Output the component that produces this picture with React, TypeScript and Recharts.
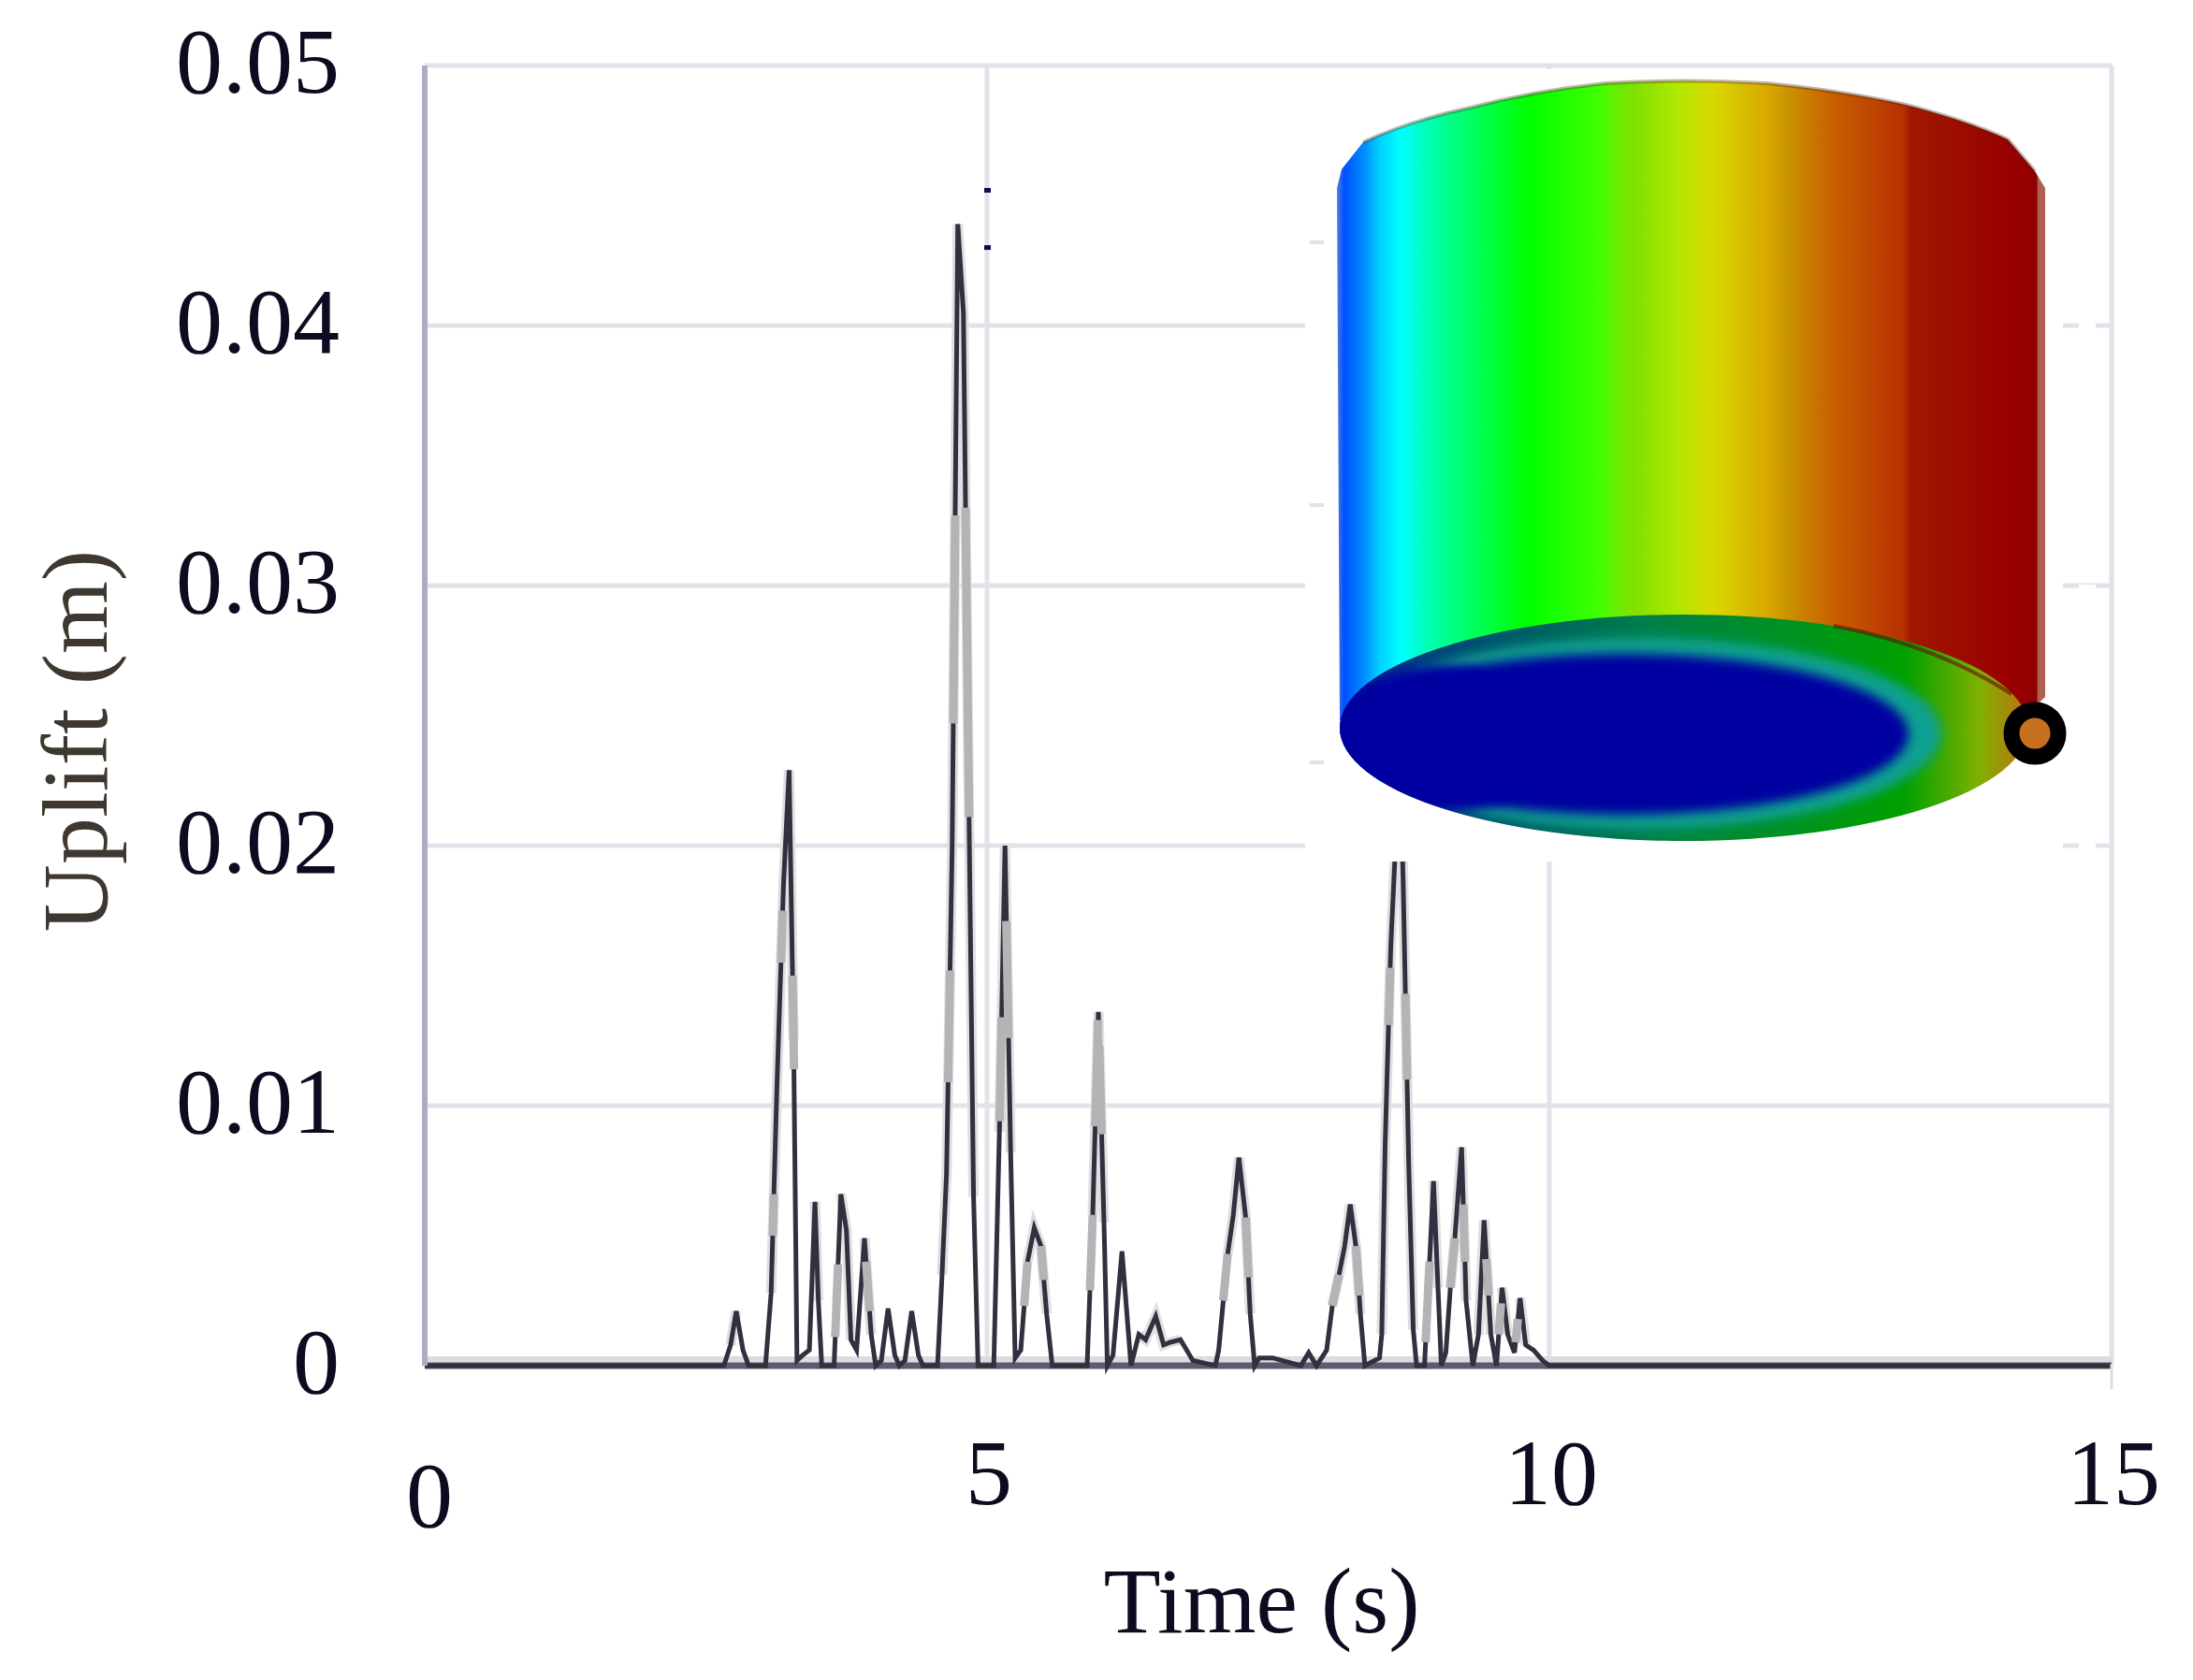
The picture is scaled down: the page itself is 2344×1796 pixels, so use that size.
import { CartesianGrid, ComposedChart, Line, ReferenceArea, ReferenceLine, Scatter, XAxis, YAxis } from 'recharts'

const time = [
  0, 2.66, 2.72, 2.77, 2.83, 2.88, 3.03, 3.08, 3.13, 3.19, 3.24, 3.28, 3.31, 3.36, 3.42, 3.47, 3.5, 3.53,
  3.64, 3.7, 3.75, 3.79, 3.84, 3.91, 3.97, 4.01, 4.06, 4.12, 4.18, 4.22, 4.27, 4.33, 4.39, 4.43,
  4.56, 4.6, 4.64, 4.69, 4.74, 4.79, 4.83, 4.88, 4.92, 5.06, 5.11, 5.16, 5.21, 5.25,
  5.3, 5.36, 5.42, 5.48, 5.53, 5.58, 5.89, 5.94, 5.99, 6.04, 6.07, 6.12, 6.2, 6.28,
  6.35, 6.41, 6.5, 6.57, 6.63, 6.72, 6.83, 7.03, 7.06, 7.14, 7.19, 7.24, 7.3, 7.34, 7.38,
  7.42, 7.54, 7.79, 7.86, 7.93, 8.02, 8.07, 8.13, 8.18, 8.23, 8.28, 8.32, 8.36,
  8.49, 8.51, 8.54, 8.59, 8.67, 8.7, 8.75, 8.79, 8.82, 8.89, 8.97, 9.01, 9.04,
  9.08, 9.12, 9.16, 9.22, 9.26, 9.32, 9.37, 9.42, 9.48, 9.53, 9.58, 9.63, 9.69,
  9.74, 9.79, 9.86, 9.94, 10, 15,
]
const uplift = [
  0, 0, 0.0008, 0.0021, 0.0006, 0, 0, 0.0028, 0.0105, 0.0185, 0.0229, 0.0125, 0.0002, 0.0004, 0.0006, 0.0063, 0.0025, 0,
  0, 0.0066, 0.0052, 0.001, 0.0006, 0.0049, 0.0012, 0, 0.0002, 0.0022, 0.0004, 0, 0.0002, 0.0021, 0.0004, 0,
  0, 0.0035, 0.0074, 0.02, 0.0439, 0.0405, 0.0247, 0.0065, 0, 0, 0.009, 0.02, 0.0082, 0.0003,
  0.0006, 0.004, 0.0053, 0.0046, 0.002, 0, 0, 0.0058, 0.0136, 0.0055, 0, 0.0004, 0.0044, 0,
  0.0012, 0.001, 0.0019, 0.0008, 0.0009, 0.001, 0.0002, 0, 0.0006, 0.0043, 0.0058, 0.008, 0.0057, 0.002, 0,
  0.0003, 0.0003, 0, 0.0005, 0, 0.0006, 0.0023, 0.0035, 0.0046, 0.0062, 0.0046, 0.002, 0,
  0.0003, 0.0012, 0.0085, 0.0161, 0.0235, 0.0187, 0.0077, 0.0014, 0, 0, 0.0071, 0.003, 0,
  0.0005, 0.003, 0.0049, 0.0084, 0.0025, 0, 0.0012, 0.0056, 0.0012, 0, 0.003, 0.0012, 0.0005,
  0.0026, 0.0008, 0.0006, 0.0002, 0, 0,
]
// stretches of the flanks where the trace goes gray instead of dark, null breaks the line
const grayTime = [
  3.094, 3.105, 0, 3.1675, 3.1825, 0, 3.27, 3.28, 3.283, 0, 3.65, 3.675, 0, 3.925, 3.955, 0,
  4.654, 4.671, 0, 4.7, 4.717, 0, 4.809, 4.83, 4.84, 0, 5.112, 5.13, 0, 5.172, 5.191, 0,
  5.33, 5.36, 0, 5.48, 5.505, 0, 5.915, 5.94, 0, 5.962, 5.988, 0, 5.998, 6.019, 0,
  7.1, 7.14, 0, 7.3, 7.325, 0, 8.07, 8.13, 0, 8.28, 8.31, 0, 8.57, 8.585, 0, 8.72, 8.735, 0,
  8.9, 8.935, 0, 9.12, 9.16, 0, 9.235, 9.25, 0, 9.44, 9.46, 0, 9.55, 9.57, 0, 9.7, 9.72,
]
const grayUplift = [
  0.005, 0.0066, null, 0.0155, 0.0175, null, 0.015, 0.0125, 0.0114, null, 0.0011, 0.0039, null, 0.004, 0.0021, null,
  0.0109, 0.0152, null, 0.0247, 0.0327, null, 0.033, 0.0247, 0.0211, null, 0.0094, 0.0134, null, 0.0171, 0.0126, null,
  0.0023, 0.004, null, 0.0046, 0.0033, null, 0.0029, 0.0058, null, 0.0092, 0.0133, null, 0.0123, 0.0089, null,
  0.0025, 0.0043, null, 0.0057, 0.0034, null, 0.0023, 0.0035, null, 0.0046, 0.0027, null, 0.0131, 0.0153, null, 0.0143, 0.011, null,
  0.0009, 0.004, null, 0.003, 0.0049, null, 0.0062, 0.004, null, 0.0041, 0.0027, null, 0.0012, 0.0024, null, 0.0009, 0.0018,
]
const strayTimes = [5, 5]
const strayValues = [0.0452, 0.043]
const xTicks = [0, 5, 10, 15]
const yTicks = [0, 0.01, 0.02, 0.03, 0.04, 0.05]

const chartData = time.map((t, i) => ({ time: t, uplift: uplift[i], halo: uplift[i] > 0.0006 ? uplift[i] : null }))
const grayData = grayTime.map((t, i) => ({ time: t, gray: grayUplift[i] }))
const strayData = strayTimes.map((t, i) => ({ time: t, uplift: strayValues[i] }))

const serif = '"Liberation Serif", serif'

function TimeTick({ x, y, payload }: any) {
  const isZero = payload.value === 0
  return (
    <g>
      {payload.value === 15 && <line x1={x} x2={x} y1={y - 10} y2={y + 17} stroke="#dcdce4" strokeWidth={3} />}
      <text x={x + (isZero ? 5 : 2)} y={isZero ? 1632 : 1608} textAnchor="middle" fontFamily={serif} fontSize={100} fill="#0c0c20">
        {payload.value}
      </text>
    </g>
  )
}

function StrayMark({ cx, cy }: any) {
  return <rect x={cx - 3} y={cy - 2.5} width={7} height={5} fill="#0a0a50" />
}

const sideStops: [number, string][] = [
  [0, '#5080e0'], [1, '#0050ff'], [4, '#0090ff'], [6, '#00d0ff'], [9, '#00ffff'], [13, '#00ffb0'], [19, '#00ff60'],
  [27, '#00ff00'], [37, '#40ff00'], [39, '#60f000'], [42, '#80e000'], [48, '#b0e800'], [53, '#d8d800'],
  [61, '#d8a800'], [64, '#c89000'], [70, '#c86000'], [80, '#b83000'], [81, '#a01800'], [95, '#980000'], [98.8, '#900000'], [99, '#b06050'],
]

function Inset() {
  return (
    <svg width={2344} height={1796} style={{ position: 'absolute', left: 0, top: 0 }}>
      <defs>
        <linearGradient id="side" x1="0" x2="1" y1="0" y2="0">
          {sideStops.map(([o, c]) => <stop key={o} offset={`${o}%`} stopColor={c} />)}
        </linearGradient>
        <linearGradient id="base" x1="0" x2="1" y1="0" y2="0">
          <stop offset="0%" stopColor="#002a90" />
          <stop offset="45%" stopColor="#008048" />
          <stop offset="82%" stopColor="#00a000" />
          <stop offset="93%" stopColor="#80b000" />
          <stop offset="100%" stopColor="#c07010" />
        </linearGradient>
        <filter id="soft" x="-10%" y="-20%" width="120%" height="140%">
          <feGaussianBlur stdDeviation="6" />
        </filter>
        <clipPath id="baseClip">
          <ellipse cx={1800} cy={778} rx={368} ry={121} />
        </clipPath>
      </defs>
      <rect x={1395} y={74} width={810} height={847} fill="#fff" />
      {[348, 629, 905].map(y => <rect key={y} x={2222} y={y - 4} width={18} height={8} fill="#fff" />)}
      {[259, 540, 815].map(y => <rect key={y} x={1400} y={y - 2} width={15} height={4} fill="#e0e0e8" />)}
      <path
        d="M1429 201 L1434 181 L1457 152 Q1510 128 1572 115 Q1640 97 1716 89 Q1800 84 1888 89 Q1970 97 2037 112 Q2100 128 2146 149 L2175 183 L2186 201 L2186 745 L2160 770 L1800 800 L1432 770 Z"
        fill="url(#side)"
      />
      <path d="M1457 152 Q1510 128 1572 115 Q1640 97 1716 89 Q1800 84 1888 89 Q1970 97 2037 112 Q2100 128 2146 149 L2175 183" fill="none" stroke="#503018" strokeOpacity={0.35} strokeWidth={4} />
      <ellipse cx={1800} cy={778} rx={368} ry={121} fill="url(#base)" />
      <g clipPath="url(#baseClip)">
        <ellipse cx={1755} cy={784} rx={320} ry={102} fill="#10a090" filter="url(#soft)" />
        <ellipse cx={1735} cy={785} rx={305} ry={86} fill="#0000a0" filter="url(#soft)" />
        <ellipse cx={1540} cy={790} rx={128} ry={78} fill="#0000a0" filter="url(#soft)" />
      </g>
      <path d="M1960 669 Q2070 690 2150 742" fill="none" stroke="#601000" strokeOpacity={0.6} strokeWidth={4} />
      <circle cx={2175} cy={784} r={25} fill="#c87020" stroke="#000" strokeWidth={17} />
    </svg>
  )
}

export default function App() {
  return (
    <div style={{ position: 'absolute', left: 0, top: 0, width: 2344, height: 1796, background: '#fff', overflow: 'hidden' }}>
      <ComposedChart width={2344} height={1796} data={chartData} margin={{ top: 70, right: 87, bottom: 0, left: 0 }}>
        <CartesianGrid stroke="#e2e2ea" strokeWidth={5} />
        <XAxis
          dataKey="time"
          type="number"
          domain={[0, 15]}
          ticks={xTicks}
          height={336}
          axisLine={false}
          tickLine={false}
          tick={<TimeTick />}
          interval={0}
          label={{ value: 'Time (s)', position: 'insideBottom', dx: -7, dy: -46, style: { fontFamily: serif, fontSize: 100, fill: '#0c0c20' } }}
        />
        <YAxis
          type="number"
          domain={[0, 0.05]}
          ticks={yTicks}
          width={454}
          interval={0}
          axisLine={{ stroke: '#adadc2', strokeWidth: 6 }}
          tickLine={false}
          tickMargin={85}
          tick={{ fontFamily: serif, fontSize: 100, fill: '#0c0c20', dy: -7 }}
          label={{ value: 'Uplift (m)', angle: -90, position: 'insideLeft', dx: 73, dy: 27, style: { fontFamily: serif, fontSize: 100, fill: '#3e3830', textAnchor: 'middle' } }}
        />
        <ReferenceArea y1={0.0001} y2={0.00036} fill="#dcdce0" fillOpacity={1} stroke="none" />
        <ReferenceLine y={0} stroke="#5c5c6c" strokeWidth={7} />
        <Line dataKey="halo" type="linear" stroke="#e0e0e2" strokeWidth={11} dot={false} connectNulls={false} isAnimationActive={false} />
        <Line dataKey="uplift" type="linear" stroke="#30303f" strokeWidth={5} dot={false} isAnimationActive={false} />
        <Line data={grayData} dataKey="gray" type="linear" stroke="#b4b4b6" strokeWidth={9} dot={false} connectNulls={false} isAnimationActive={false} />
        <Scatter data={strayData} dataKey="uplift" shape={<StrayMark />} isAnimationActive={false} />
      </ComposedChart>
      <Inset />
    </div>
  )
}
